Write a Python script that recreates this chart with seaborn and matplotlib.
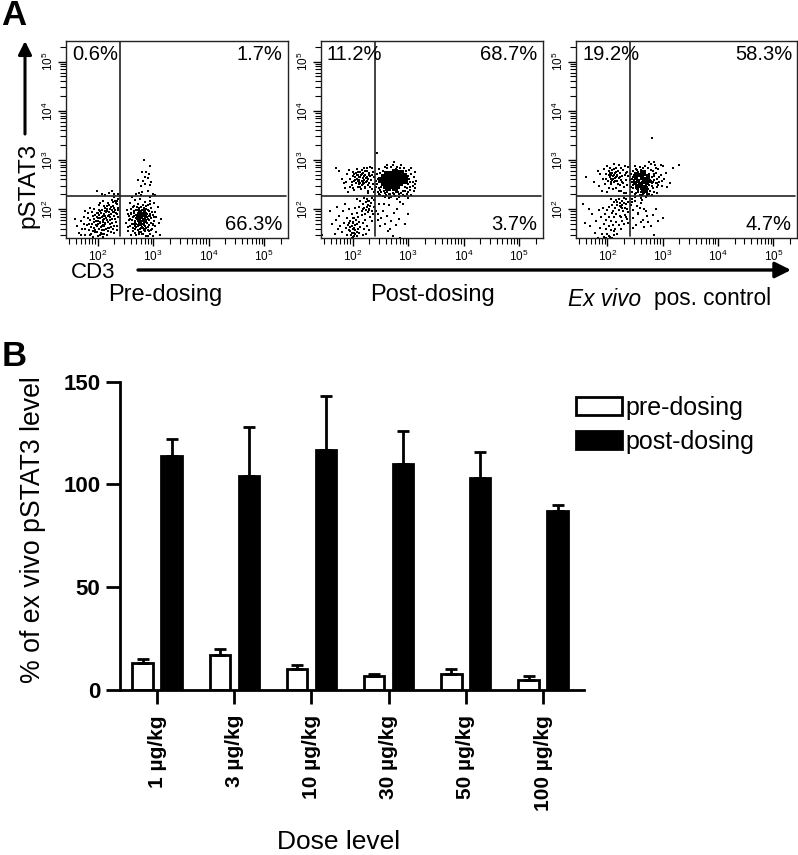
import matplotlib
matplotlib.use("Agg")
import matplotlib.pyplot as plt
from matplotlib.patches import Patch
from matplotlib.ticker import LogLocator, NullFormatter, FixedLocator, FixedFormatter
import numpy as np
import pandas as pd
import seaborn as sns

# ---------- Panel B data ----------
doses = ["1 µg/kg", "3 µg/kg", "10 µg/kg", "30 µg/kg", "50 µg/kg", "100 µg/kg"]
pre_values = [13, 17, 10, 7, 8, 5]
pre_tops = [15, 20, 12, 8, 10, 7]
post_values = [114, 104, 117, 110, 103, 87]
post_tops = [122, 128, 143, 126, 116, 90]

# ---------- Panel A data: (log10 CD3, log10 pSTAT3), read by eye ----------
pct_labels = [("0.6%", "1.7%", "66.3%"), ("11.2%", "68.7%", "3.7%"), ("19.2%", "58.3%", "4.7%")]

pre_left = [(1.62,1.66),(1.66,1.52),(1.7,1.75),(1.72,1.6),(1.76,1.83),(1.78,1.47),(1.8,1.68),(1.82,1.92),(1.84,1.57),(1.86,1.78),
(1.88,1.49),(1.9,1.7),(1.91,1.86),(1.93,1.62),(1.94,2.0),(1.95,1.53),(1.97,1.76),(1.98,1.91),(1.99,1.66),(2.0,1.46),
(2.01,1.81),(2.02,2.08),(2.03,1.6),(2.04,1.72),(2.05,1.95),(2.06,1.52),(2.07,1.84),(2.08,1.66),(2.09,2.16),(2.1,1.77),
(2.11,1.9),(2.12,1.57),(2.13,2.03),(2.14,1.69),(2.15,1.82),(2.16,1.48),(2.17,1.95),(2.18,1.74),(2.19,2.12),(2.2,1.61),
(2.21,1.87),(2.22,2.0),(2.23,1.7),(2.24,1.54),(2.25,2.19),(2.26,1.8),(2.27,1.93),(2.28,2.07),(2.29,1.66),(2.3,1.85),
(2.31,2.16),(2.32,1.98),(2.33,1.74),(2.34,2.1),(2.35,1.9),(2.36,2.21),(2.37,2.03),(2.05,1.73),(2.1,1.68),(2.12,1.79),
(2.02,1.88),(1.98,1.83),(2.15,1.93),(2.08,1.98),(2.18,1.86),(2.0,1.7),(2.06,1.63),(2.11,1.5),(1.96,1.58),(2.22,1.78),
(2.08,2.3),(1.98,2.36),(2.3,2.31),(2.2,2.33),(2.36,2.3),(2.14,2.28),(2.26,2.36),(2.33,2.12),(2.29,2.24),(2.35,2.17),
(2.24,2.05),(2.04,2.12),(2.17,2.07),(1.87,2.03),(1.77,1.95),(1.92,1.44),(2.09,1.44),(1.6,1.8),(1.7,1.48),(2.24,1.9)]
pre_left_extra = [(2.14,1.86),(1.88,1.64),(2.3,1.52),(2.03,1.99),(2.19,1.62),(1.93,1.8),(2.27,2.14),(2.09,1.74),(1.84,1.7),(2.35,1.66),
(2.16,2.0),(1.99,1.54),(2.23,1.84),(2.06,1.91),(2.32,1.79),(1.9,1.94),(2.12,1.65),(2.01,1.76),(2.28,1.6),(1.78,1.6),
(2.18,1.55),(2.07,1.58),(2.25,1.97),(1.95,1.87),(2.33,1.92),(2.13,1.72),(1.86,1.48),(2.21,2.09),(2.04,1.47),(2.3,2.02),
(2.1,1.85),(1.97,1.68),(2.16,1.78),(2.37,1.84),(2.0,1.92),(1.82,1.82),(2.26,1.72),(2.11,2.06),(2.34,1.58),(1.92,1.56),
(2.2,1.93),(2.05,1.81),(2.15,1.6),(2.29,1.94),(1.75,1.7),(2.13,1.96),(2.24,1.64),(2.08,1.5),(2.36,1.97),(1.94,1.73)]
pre_right = [(2.52,1.72),(2.53,1.98),(2.55,1.56),(2.56,1.85),(2.58,2.12),(2.59,1.65),(2.6,1.47),(2.61,1.92),(2.62,1.78),(2.63,2.05),
(2.64,1.55),(2.65,1.7),(2.66,1.86),(2.67,2.18),(2.68,1.6),(2.69,1.99),(2.7,1.48),(2.71,1.79),(2.72,1.92),(2.72,2.1),
(2.73,1.66),(2.74,1.84),(2.75,1.54),(2.75,2.02),(2.76,1.74),(2.77,1.9),(2.77,2.2),(2.78,1.62),(2.79,1.81),(2.8,1.97),
(2.8,1.49),(2.81,1.7),(2.82,2.08),(2.82,1.87),(2.83,1.58),(2.84,1.77),(2.84,1.94),(2.85,2.14),(2.86,1.66),(2.86,1.83),
(2.87,1.46),(2.88,2.0),(2.88,1.74),(2.89,1.9),(2.9,1.58),(2.91,2.08),(2.91,1.8),(2.92,1.68),(2.93,1.96),(2.94,1.5),
(2.95,1.86),(2.95,2.17),(2.96,1.72),(2.97,2.03),(2.98,1.6),(2.99,1.88),(3.0,1.46),(3.01,1.76),(3.02,2.12),(3.03,1.94),
(3.04,1.66),(3.05,1.54),(3.06,1.84),(3.08,2.05),(3.1,1.72),(3.12,1.47),(3.14,1.8),(2.76,1.84),(2.78,1.88),(2.8,1.83),
(2.82,1.92),(2.84,1.86),(2.74,1.93),(2.77,1.78),(2.79,1.94),(2.83,1.8),(2.85,1.9),(2.81,1.97),(2.75,1.72),(2.87,1.78),
(2.7,1.88),(2.73,1.98),(2.86,1.95),(2.89,1.84),(2.72,1.75),(2.78,1.72),(2.81,1.62),(2.84,1.68),(2.76,1.6),(2.88,1.62),
(2.68,1.74),(2.66,1.96),(2.9,1.99),(2.92,1.86),(2.79,2.05),(2.83,2.02),(2.74,1.5),(2.82,1.5),(2.9,1.45),(2.94,2.1),
(2.62,2.24),(2.7,2.3),(2.78,2.28),(2.95,2.25),(3.03,2.29),(2.6,1.9),(2.64,1.83),(2.68,1.52),(2.96,1.58),(3.0,1.7)]
pre_right_extra = [(2.57,1.78),(2.93,1.78),(2.67,1.66),(2.88,1.9),(2.73,1.58),(2.98,1.94),(2.63,1.62),(2.8,1.76),(2.71,2.04),(2.85,1.55),
(2.6,2.0),(2.97,1.82),(2.69,1.82),(2.91,1.64),(2.54,1.64),(2.83,1.9),(2.75,1.98),(2.65,1.92),(2.87,2.06),(2.78,1.54),
(2.55,1.9),(2.92,1.55),(2.72,1.68),(2.81,1.86),(3.02,1.84),(2.67,1.76),(2.89,1.72),(2.76,1.92),(2.62,1.7),(2.94,1.9),
(2.7,1.64),(2.84,1.99),(2.59,1.8),(2.99,1.68),(2.74,1.76),(2.86,1.6),(2.66,2.06),(2.79,1.68),(2.9,1.8),(2.77,1.84),
(2.83,1.74),(2.71,1.86),(2.8,1.9),(2.75,1.8),(2.85,1.82),(2.78,1.96),(2.82,1.78),(2.73,1.88),(2.88,1.86),(2.76,1.68),
(2.81,1.8),(2.79,1.74),(2.84,1.72),(2.77,1.86),(2.72,1.82),(2.86,1.74),(2.8,1.64),(2.74,1.7),(2.87,1.92),(2.69,1.7)]
pre_high = [(2.84,3.0),(2.94,2.88),(2.8,2.75),(2.88,2.76),(2.93,2.72),(2.86,2.66),(2.72,2.6),(2.82,2.58),(2.9,2.63),(2.96,2.55),
(2.78,2.47),(2.86,2.5),(2.94,2.48),(2.74,2.33),(2.8,2.35),(2.9,2.37),(3.0,2.3)]

post_core = [(2.52,2.6),(2.56,2.53),(2.56,2.66),(2.6,2.47),(2.6,2.6),(2.62,2.72),(2.65,2.54),(2.66,2.65),(2.7,2.47),(2.7,2.58),
(2.7,2.71),(2.74,2.52),(2.75,2.64),(2.76,2.76),(2.8,2.47),(2.8,2.58),(2.81,2.7),(2.85,2.52),(2.85,2.64),(2.88,2.74),
(2.9,2.58),(2.92,2.67),(2.64,2.42),(2.76,2.43),(2.95,2.6)]
post_ring = [(2.44,2.5),(2.46,2.62),(2.48,2.42),(2.5,2.74),(2.52,2.35),(2.54,2.78),(2.58,2.32),(2.6,2.4),(2.62,2.84),(2.66,2.31),
(2.68,2.38),(2.7,2.86),(2.72,2.33),(2.75,2.95),(2.78,2.35),(2.8,2.86),(2.83,2.3),(2.86,2.84),(2.9,2.36),(2.92,2.83),
(2.95,2.44),(2.97,2.78),(3.0,2.5),(3.02,2.62),(3.04,2.45),(3.05,2.72),(3.08,2.56),(3.1,2.66),(3.12,2.42),(3.14,2.58),
(3.06,2.83),(3.0,2.34),(3.1,2.36),(2.9,2.29),(2.7,2.24),(2.8,2.2),(2.86,2.15),(2.95,2.26),(3.06,2.28),(2.6,2.28),
(2.5,2.28),(2.46,2.35),(2.44,2.72),(2.48,2.82),(2.42,2.58),(2.98,2.42),(3.0,2.68),(2.96,2.52),(3.02,2.8),(2.58,2.86),
(2.42,2.44),(2.54,2.26),(2.66,2.22),(2.72,2.9),(2.88,2.9),(3.0,2.22),(3.04,2.55),(3.13,2.76),(2.62,2.9),(2.78,2.82),
(2.41,2.38),(2.44,3.14),(2.52,2.45),(2.74,2.3),(3.12,2.5),(2.84,2.25),(2.58,2.24),(2.47,2.3),(2.62,2.34),(2.88,2.32),
(2.94,2.36),(3.03,2.38),(2.76,2.27),(2.56,2.36),(2.82,2.34),(2.68,2.3),(2.98,2.3),(3.08,2.46),(2.5,2.38),(2.72,2.38)]
post_upper = [(1.76,2.78),(1.84,2.52),(1.86,2.42),(1.9,2.72),(1.92,2.34),(1.96,2.62),(1.98,2.48),(2.0,2.75),(2.02,2.58),(2.03,2.38),
(2.05,2.66),(2.06,2.52),(2.08,2.82),(2.09,2.45),(2.1,2.7),(2.11,2.6),(2.12,2.55),(2.13,2.76),(2.14,2.65),(2.15,2.4),
(2.16,2.58),(2.17,2.72),(2.18,2.64),(2.19,2.5),(2.2,2.83),(2.21,2.6),(2.22,2.7),(2.23,2.44),(2.24,2.56),(2.25,2.78),
(2.26,2.66),(2.27,2.36),(2.28,2.62),(2.29,2.52),(2.3,2.74),(2.31,2.86),(2.32,2.44),(2.33,2.6),(2.34,2.7),(2.35,2.84),
(2.36,2.5),(2.38,2.34),(2.38,2.66),(2.12,2.66),(2.15,2.7),(2.1,2.58),(2.18,2.56),(2.2,2.68),(2.08,2.62),(2.24,2.64),
(2.06,2.74),(2.14,2.52),(1.7,2.84),(1.8,2.62),(2.22,2.42),(2.28,2.32),(2.0,2.42),(1.94,2.8),(2.16,2.8),(2.26,2.84),
(2.04,2.6),(2.19,2.74),(1.99,2.55),(2.27,2.48),(2.13,2.44),(2.32,2.68),(2.07,2.7),(2.25,2.58),(2.1,2.76),(2.21,2.52),
(2.01,2.68),(2.36,2.76),(1.95,2.44),(2.17,2.48),(2.29,2.7),(2.11,2.5),(2.23,2.78),(2.03,2.72),(2.34,2.4),(1.88,2.56)]
post_mid = [(2.08,2.2),(2.12,2.05),(2.14,2.16),(2.16,1.96),(2.18,2.1),(2.2,2.22),(2.21,2.02),(2.22,1.9),(2.24,2.14),(2.25,2.04),
(2.26,2.2),(2.27,1.94),(2.28,2.08),(2.29,2.0),(2.3,2.16),(2.31,1.84),(2.32,2.06),(2.33,2.12),(2.34,1.96),(2.35,2.22),
(2.36,1.9),(2.38,2.04),(2.42,1.95),(2.46,1.9),(2.48,2.1),(2.38,2.18),(2.24,1.98),(2.18,2.0),(2.28,2.16),(2.3,1.98)]
post_low = [(1.44,1.47),(1.6,1.95),(1.62,1.7),(1.68,1.5),(1.7,1.78),(1.72,2.05),(1.74,1.6),(1.76,1.85),(1.78,1.66),(1.8,1.54),
(1.82,1.95),(1.84,1.72),(1.86,2.1),(1.88,1.62),(1.9,1.48),(1.9,1.82),(1.92,1.68),(1.93,2.0),(1.94,1.58),(1.96,1.76),
(1.97,1.48),(1.98,1.66),(1.98,1.9),(2.0,1.6),(2.0,1.74),(2.0,1.44),(2.02,1.82),(2.02,1.52),(2.04,1.68),(2.04,2.02),
(2.05,1.58),(2.06,1.78),(2.07,1.46),(2.08,1.7),(2.08,1.92),(2.1,1.6),(2.1,1.84),(2.12,1.52),(2.12,1.74),(2.14,1.64),
(2.16,1.88),(2.18,1.48),(2.18,1.72),(2.2,1.6),(2.22,1.78),(2.24,1.5),(2.26,1.66),(2.3,1.58),(2.34,1.76),(1.95,1.55),
(1.99,1.52),(2.03,1.62),(2.01,1.72),(1.96,1.64),(2.05,1.5),(2.08,1.54),(1.94,1.72),(2.0,1.82),(2.02,1.46),(1.98,1.42)]
post_lowright = [(2.46,1.78),(2.5,1.65),(2.54,1.96),(2.58,1.7),(2.62,1.86),(2.66,2.08),(2.68,1.6),(2.7,1.76),(2.72,1.45),(2.74,1.92),
(2.78,1.68),(2.8,2.0),(2.84,1.8),(2.86,1.42),(2.9,2.1),(2.94,1.7),(3.0,1.9),(2.56,2.1),(2.64,1.56),(2.52,1.82)]

ctl_core = [(2.5,2.52),(2.52,2.64),(2.54,2.44),(2.56,2.58),(2.58,2.7),(2.6,2.5),(2.62,2.63),(2.66,2.56),(2.66,2.72),(2.68,2.44),
(2.7,2.62),(2.72,2.52),(2.56,2.46),(2.62,2.42),(2.74,2.66),(2.62,2.76),(2.7,2.38),(2.76,2.58),(2.52,2.72),(2.64,2.36)]
ctl_upper_right = [(2.41,2.6),(2.42,2.44),(2.43,2.72),(2.44,2.34),(2.45,2.55),(2.46,2.66),(2.47,2.78),(2.47,2.42),(2.48,2.6),(2.49,2.3),
(2.5,2.52),(2.51,2.72),(2.52,2.82),(2.53,2.4),(2.54,2.62),(2.55,2.34),(2.56,2.76),(2.57,2.5),(2.58,2.44),(2.59,2.28),
(2.6,2.8),(2.61,2.68),(2.62,2.38),(2.63,2.56),(2.64,2.45),(2.65,2.84),(2.66,2.32),(2.67,2.64),(2.68,2.78),(2.69,2.52),
(2.7,2.4),(2.71,2.7),(2.72,2.28),(2.73,2.62),(2.74,2.84),(2.75,2.48),(2.76,2.72),(2.77,2.36),(2.78,2.58),(2.79,2.92),
(2.8,2.66),(2.81,2.46),(2.82,2.78),(2.83,2.56),(2.84,2.34),(2.85,2.68),(2.86,2.9),(2.87,2.52),(2.88,2.74),(2.89,2.44),
(2.9,2.62),(2.92,2.82),(2.94,2.56),(2.96,2.7),(2.98,2.46),(3.0,2.88),(3.02,2.62),(3.06,2.74),(3.08,2.44),(2.9,2.32),
(2.8,2.28),(2.7,2.24),(2.6,2.22),(2.5,2.25),(2.44,2.2),(3.14,2.52),(3.19,2.84),(2.81,3.45),(3.3,2.9),(2.96,2.9),
(2.76,2.95),(2.84,2.96),(2.58,2.86),(2.5,2.88),(2.68,2.34),(2.62,2.28),(2.74,2.4),(2.72,2.32),(2.66,2.42),(2.64,2.3),
(2.48,2.7),(2.85,2.6),(2.46,2.48),(2.82,2.42),(2.52,2.32),(2.9,2.52),(2.78,2.8),(2.44,2.62),(2.94,2.66),(2.56,2.38),
(2.84,2.72),(2.98,2.58),(2.72,2.44),(2.68,2.88),(2.8,2.52),(2.6,2.34),(2.88,2.84),(2.54,2.8),(2.92,2.48),(2.76,2.3)]
ctl_upper_left = [(1.62,2.66),(1.76,2.54),(1.84,2.46),(1.86,2.72),(1.9,2.36),(1.92,2.62),(1.94,2.82),(1.96,2.5),(1.98,2.72),(2.0,2.88),
(2.01,2.58),(2.02,2.42),(2.03,2.78),(2.04,2.66),(2.05,2.84),(2.06,2.5),(2.07,2.7),(2.08,2.6),(2.09,2.8),(2.1,2.68),
(2.11,2.92),(2.12,2.55),(2.13,2.74),(2.14,2.64),(2.15,2.84),(2.16,2.42),(2.17,2.7),(2.18,2.58),(2.19,2.78),(2.2,2.9),
(2.21,2.64),(2.22,2.48),(2.23,2.74),(2.24,2.84),(2.25,2.36),(2.26,2.68),(2.27,2.55),(2.28,2.8),(2.3,2.44),(2.31,2.7),
(2.32,2.88),(2.33,2.32),(2.34,2.6),(2.35,2.76),(2.36,2.48),(2.37,2.86),(2.38,2.68),(2.12,2.7),(2.1,2.62),(2.15,2.66),
(2.08,2.74),(2.18,2.68),(2.06,2.62),(2.22,2.66),(2.14,2.58),(2.2,2.36),(2.1,2.4),(2.3,2.32),(2.0,2.34),(1.82,2.78),
(2.04,2.74),(2.16,2.76),(1.98,2.62),(2.25,2.6),(2.12,2.82),(2.07,2.54),(2.28,2.52),(2.19,2.5),(2.02,2.7),(2.33,2.74)]
ctl_mid = [(2.02,2.04),(2.06,2.2),(2.08,2.08),(2.1,1.96),(2.12,2.14),(2.14,2.02),(2.15,2.18),(2.16,1.9),(2.18,2.08),(2.2,2.2),
(2.2,1.98),(2.22,2.12),(2.24,2.04),(2.25,1.84),(2.26,2.16),(2.27,2.08),(2.28,1.96),(2.29,2.12),(2.3,2.22),(2.31,2.02),
(2.32,1.88),(2.33,2.1),(2.34,2.2),(2.35,2.0),(2.36,1.8),(2.38,2.14),(2.38,1.94),(2.22,2.06),(2.18,2.14),(2.26,2.02),
(2.42,2.08),(2.46,1.98),(2.5,2.16),(2.54,2.06),(2.56,1.92),(2.6,2.12),(2.66,2.0),(2.72,1.86),(2.44,2.14),(2.62,2.18)]
ctl_low = [(1.42,1.84),(1.56,2.1),(1.6,1.72),(1.66,2.0),(1.68,1.65),(1.72,1.9),(1.78,1.52),(1.8,1.76),(1.82,1.42),(1.84,1.98),
(1.86,1.62),(1.88,1.84),(1.9,1.5),(1.92,2.02),(1.93,1.7),(1.94,1.44),(1.96,1.9),(1.97,1.6),(1.98,1.78),(2.0,1.5),
(2.0,1.98),(2.02,1.66),(2.03,1.84),(2.05,1.44),(2.06,1.58),(2.07,1.76),(2.08,1.92),(2.1,1.68),(2.11,1.48),(2.12,1.84),
(2.14,1.6),(2.16,1.74),(2.18,1.5),(2.2,1.68),(2.22,1.86),(2.24,1.6),(2.26,1.76),(2.3,1.7),(2.34,1.84),(1.98,1.42),
(2.02,1.46),(2.08,1.42),(2.12,1.56),(2.38,1.72),(2.46,1.62)]
ctl_lowright = [(2.46,1.82),(2.52,1.68),(2.56,1.9),(2.6,1.74),(2.66,1.64),(2.7,1.96),(2.74,1.74),(2.78,1.66),(2.82,1.88),(2.84,1.48),
(2.88,2.0),(2.92,1.76),(3.0,1.82),(2.64,1.78),(2.58,2.02)]

panels = [
    [(pre_left, 1.3), (pre_left_extra, 1.3), (pre_right, 1.5), (pre_right_extra, 1.5), (pre_high, 1.1)],
    [(post_core, 22), (post_ring, 1.4), (post_upper, 1.4), (post_mid, 1.4), (post_low, 1.4), (post_lowright, 1.1)],
    [(ctl_core, 9), (ctl_upper_right, 1.6), (ctl_upper_left, 1.6), (ctl_mid, 1.4), (ctl_low, 1.2), (ctl_lowright, 1.1)],
]

sns.set_theme(style="ticks")
plt.rcParams["font.family"] = ["Liberation Sans", "DejaVu Sans"]
plt.rcParams["mathtext.fontset"] = "custom"
plt.rcParams["mathtext.rm"] = "Liberation Sans"
plt.rcParams["mathtext.it"] = "Liberation Sans:italic"
plt.rcParams["mathtext.bf"] = "Liberation Sans:bold"

W, H = 798, 855
fig = plt.figure(figsize=(W / 100, H / 100), dpi=100, facecolor="white")


def axes_px(left, top, right, bottom):
    return fig.add_axes([left / W, 1 - bottom / H, (right - left) / W, (bottom - top) / H])


def ftext(x, y, s, **kw):
    kw.setdefault("va", "center")
    kw.setdefault("color", "black")
    return fig.text(x / W, 1 - y / H, s, **kw)


def farrow(x0, y0, x1, y1, lw, ms):
    fig.add_artist(matplotlib.patches.FancyArrowPatch(
        (x0 / W, 1 - y0 / H), (x1 / W, 1 - y1 / H), transform=fig.transFigure,
        arrowstyle="-|>", mutation_scale=ms, lw=lw, color="black", shrinkA=0, shrinkB=0))


# ---------- Panel A ----------
boxes = [(66, 288), (321, 543), (576, 797)]
sub_ticks = np.arange(2, 10)
for (left, right), groups, pcts in zip(boxes, panels, pct_labels):
    ax = axes_px(left, 41, right, 238)
    for pts, size in groups:
        frame = pd.DataFrame(pts, columns=["log_cd3", "log_pstat3"])
        frame["cd3"] = 10 ** frame["log_cd3"]
        frame["pstat3"] = 10 ** frame["log_pstat3"]
        sns.scatterplot(data=frame, x="cd3", y="pstat3", ax=ax, s=size, color="black",
                        marker="s", linewidth=0, legend=False, clip_on=True)
    ax.set_xscale("log")
    ax.set_yscale("log")
    ax.set_xlim(10 ** 1.43, 10 ** 5.43)
    ax.set_ylim(10 ** 1.41, 10 ** 5.42)
    ax.set_xlabel("")
    ax.set_ylabel("")
    for axis in (ax.xaxis, ax.yaxis):
        axis.set_major_locator(FixedLocator([1e2, 1e3, 1e4, 1e5]))
        axis.set_major_formatter(FixedFormatter([r"$\mathregular{10^{%d}}$" % k for k in (2, 3, 4, 5)]))
        axis.set_minor_locator(LogLocator(base=10, subs=sub_ticks, numticks=12))
        axis.set_minor_formatter(NullFormatter())
    ax.tick_params(which="major", length=6, width=1.0, labelsize=8.5, pad=1.5, color="black", labelcolor="black")
    ax.tick_params(which="minor", length=4, width=0.8, color="black")
    for lab in ax.get_yticklabels():
        lab.set_rotation(90)
        lab.set_va("center")
    for sp in ax.spines.values():
        sp.set_visible(True)
        sp.set_linewidth(1.0)
        sp.set_color("#222222")
    ax.axhline(10 ** 2.27, xmin=0, xmax=0.99, color="#222222", lw=1.2)
    ax.axvline(10 ** 2.40, ymin=0.01, ymax=1, color="#222222", lw=1.2)
    ftext(left + 6, 54, pcts[0], fontsize=14.5, ha="left")
    ftext(left + 216, 54, pcts[1], fontsize=14.5, ha="right")
    ftext(left + 216, 224, pcts[2], fontsize=14.5, ha="right")

ftext(1, 25, "A", fontsize=25, fontweight="bold", ha="left", va="baseline")
ftext(2, 366, "B", fontsize=25, fontweight="bold", ha="left", va="baseline")
ftext(28, 185, "pSTAT3", fontsize=17.5, rotation=90, ha="center")
ftext(71, 273, "CD3", fontsize=16, ha="left")
farrow(25, 134, 25, 41, 2.2, 20)
farrow(138, 270, 791, 270, 2.4, 24)
ftext(165, 295, "Pre-dosing", fontsize=17, ha="center")
ftext(432, 295, "Post-dosing", fontsize=17, ha="center")
ftext(568, 299, "Ex vivo", fontsize=16.3, ha="left", style="italic")
ftext(654, 299, "pos. control", fontsize=16.3, ha="left")

# ---------- Panel B ----------
axb = axes_px(120, 381.7, 584, 690)
bars = pd.DataFrame({
    "dose": doses * 2,
    "value": pre_values + post_values,
    "group": ["pre-dosing"] * len(doses) + ["post-dosing"] * len(doses),
})
sns.barplot(data=bars, x="dose", y="value", hue="group", order=doses, ax=axb,
            hue_order=["pre-dosing", "post-dosing"], palette=["white", "black"],
            width=0.75, gap=0.3, edgecolor="black", linewidth=2, errorbar=None, legend=False)
centers = np.arange(len(doses))
for offset, values, tops in ((-0.188, pre_values, pre_tops), (0.188, post_values, post_tops)):
    vals = np.array(values, dtype=float)
    upper = np.array(tops, dtype=float) - vals
    axb.errorbar(centers + offset, vals, yerr=[np.zeros_like(vals), upper], fmt="none",
                 ecolor="black", elinewidth=2, capsize=4.5, capthick=2, zorder=1)
axb.set_xlim(-0.48, 5.53)
axb.set_ylim(0, 150)
axb.set_yticks([0, 50, 100, 150])
axb.set_xticks(centers)
axb.set_xticklabels(doses, rotation=90, fontweight="bold", fontsize=15, color="black")
axb.set_yticklabels(["0", "50", "100", "150"], fontweight="bold", fontsize=16, color="black")
axb.tick_params(axis="y", length=10, width=2, pad=4, color="black")
axb.tick_params(axis="x", length=10, width=2, pad=8, color="black")
axb.set_xlabel("")
axb.set_ylabel("")
sns.despine(ax=axb)
for side in ("left", "bottom"):
    axb.spines[side].set_linewidth(2)
    axb.spines[side].set_color("black")

ftext(33, 530, "% of ex vivo pSTAT3 level", fontsize=19.2, rotation=90, ha="center")
ftext(339, 849, "Dose level", fontsize=19, ha="center", va="baseline")

handles = [Patch(facecolor="white", edgecolor="black", linewidth=2, label="pre-dosing"),
           Patch(facecolor="black", edgecolor="black", linewidth=2, label="post-dosing")]
fig.legend(handles=handles, loc="upper left", bbox_to_anchor=(568 / W, 1 - 388 / H),
           frameon=False, fontsize=18, handlelength=1.85, handleheight=0.72, handletextpad=0.15,
           labelspacing=0.42, borderpad=0.3, borderaxespad=0, labelcolor="black")

fig.savefig("out.png", dpi=100, facecolor="white")
